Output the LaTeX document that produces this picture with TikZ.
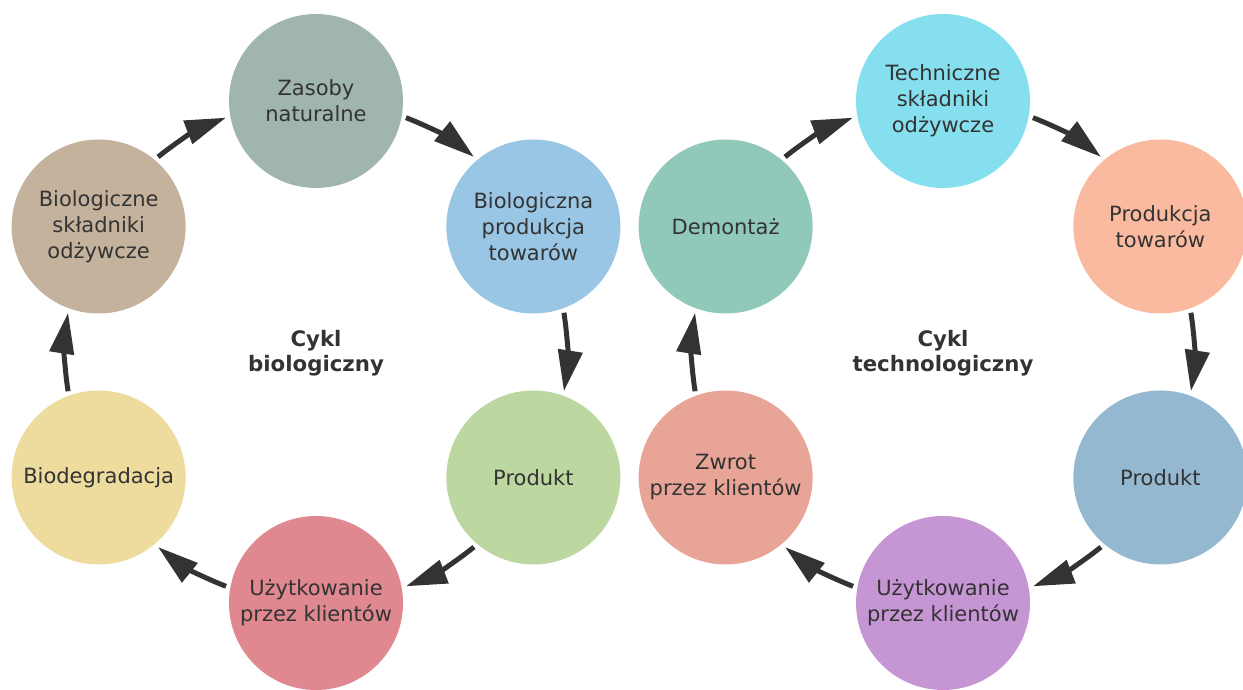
\documentclass[tikz,border=0pt]{standalone}
\usepackage{fontspec}
\setmainfont{DejaVu Sans}
\usetikzlibrary{arrows.meta}
\definecolor{txt}{HTML}{333333}
\definecolor{cZas}{HTML}{9FB5AE}
\definecolor{cBprod}{HTML}{9AC6E5}
\definecolor{cBprodukt}{HTML}{BCD79F}
\definecolor{cBuzyt}{HTML}{E0888F}
\definecolor{cBdeg}{HTML}{EEDB9E}
\definecolor{cBskl}{HTML}{C4B29C}
\definecolor{cTskl}{HTML}{85DFEE}
\definecolor{cTprod}{HTML}{F9BA9F}
\definecolor{cTprodukt}{HTML}{94B8D0}
\definecolor{cTuzyt}{HTML}{C695D3}
\definecolor{cTzwrot}{HTML}{E8A597}
\definecolor{cTdem}{HTML}{90C9B9}
\begin{document}
\begin{tikzpicture}[x=1pt,y=1pt,
  cnode/.style={circle, minimum size=174pt, inner sep=0pt, draw=none, text=txt, align=center,
    font=\fontsize{21pt}{26pt}\selectfont},
  cyclelbl/.style={text=txt, align=center, font=\bfseries\fontsize{21.3pt}{25.5pt}\selectfont},
  arr/.style={draw=txt, line width=5pt, -{Triangle[length=41pt,width=24pt]}}]
\useasboundingbox (0,0) rectangle (1243,690);
\clip (0,0) rectangle (1243,690);
% cycle centres
\coordinate (cb) at (316,338);
\coordinate (ct) at (943,338);
% biological cycle
\node[cnode, fill=cZas] (bzas) at ([shift={(90:251pt)}]cb) {Zasoby\\naturalne};
\node[cnode, fill=cBprod] (bprod) at ([shift={(30:251pt)}]cb) {Biologiczna\\produkcja\\towarów};
\node[cnode, fill=cBprodukt] (bprodukt) at ([shift={(-30:251pt)}]cb) {Produkt};
\node[cnode, fill=cBuzyt] (buzyt) at ([shift={(-90:251pt)}]cb) {Użytkowanie\\przez klientów};
\node[cnode, fill=cBdeg] (bdeg) at ([shift={(-150:251pt)}]cb) {Biodegradacja};
\node[cnode, fill=cBskl] (bskl) at ([shift={(150:251pt)}]cb) {Biologiczne\\składniki\\odżywcze};
\node[cyclelbl] (blbl) at ([yshift=-1pt]cb) {Cykl\\biologiczny};
% technological cycle
\node[cnode, fill=cTskl] (tskl) at ([shift={(90:251pt)}]ct) {Techniczne\\składniki\\odżywcze};
\node[cnode, fill=cTprod] (tprod) at ([shift={(30:251pt)}]ct) {Produkcja\\towarów};
\node[cnode, fill=cTprodukt] (tprodukt) at ([shift={(-30:251pt)}]ct) {Produkt};
\node[cnode, fill=cTuzyt] (tuzyt) at ([shift={(-90:251pt)}]ct) {Użytkowanie\\przez klientów};
\node[cnode, fill=cTzwrot] (tzwrot) at ([shift={(-150:251pt)}]ct) {Zwrot\\przez klientów};
\node[cnode, fill=cTdem] (tdem) at ([shift={(150:251pt)}]ct) {Demontaż};
\node[cyclelbl] (tlbl) at ([yshift=-1pt]ct) {Cykl\\technologiczny};
% arrows (arcs around each cycle centre, clockwise)
\foreach \c in {cb,ct}{
  \foreach \m in {60,0,-60,-120,-180,120}{
    \draw[arr] ([shift={(\m+9:251pt)}]\c) arc[start angle=\m+9, end angle=\m-9, radius=251pt];
  }
}
\end{tikzpicture}
\end{document}
